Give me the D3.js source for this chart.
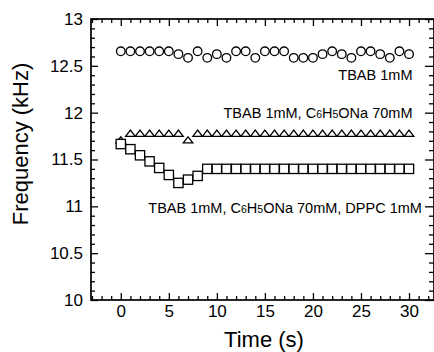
<!DOCTYPE html>
<html>
<head>
<meta charset="utf-8">
<script src="https://cdn.jsdelivr.net/npm/d3@7"></script>
<style>
  body { margin: 0; background: #fff; }
  text { font-family: "Liberation Sans", Arial, sans-serif; fill: #000; }
</style>
</head>
<body>
<div id="chart"></div>
<script>
// time axis (s)
const times = [0, 1, 2, 3, 4, 5, 6, 7, 8, 9, 10, 11, 12, 13, 14, 15, 16, 17, 18, 19, 20, 21, 22, 23, 24, 25, 26, 27, 28, 29, 30];

// TBAB 1mM (circles)
const freqTbab = [12.655, 12.655, 12.655, 12.655, 12.655, 12.655, 12.625, 12.585, 12.655, 12.585,
                  12.625, 12.585, 12.655, 12.655, 12.585, 12.655, 12.655, 12.655, 12.585, 12.585,
                  12.585, 12.625, 12.655, 12.625, 12.585, 12.655, 12.655, 12.625, 12.585, 12.655, 12.625];

// TBAB 1mM, C6H5ONa 70mM (triangles)
const freqPhenolate = [11.71, 11.78, 11.78, 11.78, 11.78, 11.78, 11.78, 11.71, 11.78, 11.78,
                       11.78, 11.78, 11.78, 11.78, 11.78, 11.78, 11.78, 11.78, 11.78, 11.78,
                       11.78, 11.78, 11.78, 11.78, 11.78, 11.78, 11.78, 11.78, 11.78, 11.78, 11.78];

// TBAB 1mM, C6H5ONa 70mM, DPPC 1mM (squares)
const freqDppc = [11.665, 11.61, 11.545, 11.48, 11.41, 11.335, 11.25, 11.285, 11.325, 11.40,
                  11.40, 11.40, 11.40, 11.40, 11.40, 11.40, 11.40, 11.40, 11.40, 11.40,
                  11.40, 11.40, 11.40, 11.40, 11.40, 11.40, 11.40, 11.40, 11.40, 11.40, 11.40];

const xTicks = [0, 5, 10, 15, 20, 25, 30];
const yTicks = [10, 10.5, 11, 11.5, 12, 12.5, 13];

const width = 434, height = 352;
const margin = {top: 19, right: 0, bottom: 52, left: 91};

const svg = d3.select("#chart").append("svg")
    .attr("width", width)
    .attr("height", height);

const x = d3.scaleLinear().domain([-3.1, 32.6]).range([margin.left, width - margin.right]);
const y = d3.scaleLinear().domain([10, 13]).range([height - margin.bottom, margin.top]);

const xMinor = d3.range(-3, 33, 1).filter(v => !xTicks.includes(v));
const yMinor = d3.range(100, 131, 1).map(v => v / 10).filter(v => !yTicks.includes(v));

const majorLen = 7, minorLen = 4;

// frame
svg.append("rect")
    .attr("x", x.range()[0]).attr("y", y.range()[1])
    .attr("width", x.range()[1] - x.range()[0])
    .attr("height", y.range()[0] - y.range()[1])
    .attr("fill", "none").attr("stroke", "#000").attr("stroke-width", 1.7);

function addAxis(gen, tx, ty, labels) {
    const g = svg.append("g").attr("transform", `translate(${tx},${ty})`).call(gen);
    g.select(".domain").remove();
    g.selectAll("line").attr("stroke", "#000").attr("stroke-width", 1.3);
    if (!labels) g.selectAll("text").remove();
    else g.selectAll("text").attr("font-size", 17).attr("fill", "#000");
    return g;
}

const bottomY = y.range()[0], topY = y.range()[1];
const leftX = x.range()[0], rightX = x.range()[1];

// bottom / top
addAxis(d3.axisBottom(x).tickValues(xTicks).tickSizeInner(-majorLen).tickSizeOuter(0).tickPadding(5), 0, bottomY, true);
addAxis(d3.axisBottom(x).tickValues(xMinor).tickSizeInner(-minorLen).tickSizeOuter(0), 0, bottomY, false);
addAxis(d3.axisTop(x).tickValues(xTicks).tickSizeInner(-majorLen).tickSizeOuter(0), 0, topY, false);
addAxis(d3.axisTop(x).tickValues(xMinor).tickSizeInner(-minorLen).tickSizeOuter(0), 0, topY, false);

// left / right
addAxis(d3.axisLeft(y).tickValues(yTicks).tickFormat(d3.format("")).tickSizeInner(-majorLen).tickSizeOuter(0).tickPadding(8), leftX, 0, true);
addAxis(d3.axisLeft(y).tickValues(yMinor).tickSizeInner(-minorLen).tickSizeOuter(0), leftX, 0, false);
addAxis(d3.axisRight(y).tickValues(yTicks).tickSizeInner(-majorLen - 2).tickSizeOuter(0), rightX, 0, false);
addAxis(d3.axisRight(y).tickValues(yMinor).tickSizeInner(-minorLen - 1).tickSizeOuter(0), rightX, 0, false);

// axis titles
svg.append("text")
    .attr("x", 264).attr("y", 347)
    .attr("text-anchor", "middle")
    .attr("font-size", 22)
    .text("Time (s)");

svg.append("text")
    .attr("transform", "translate(28,144) rotate(-90)")
    .attr("text-anchor", "middle")
    .attr("font-size", 22)
    .text("Frequency (kHz)");

// markers
const plot = svg.append("g");

plot.selectAll("circle.tbab")
    .data(times.map((t, i) => ({t, v: freqTbab[i]})))
    .join("circle")
    .attr("class", "tbab")
    .attr("cx", d => x(d.t)).attr("cy", d => y(d.v))
    .attr("r", 4.3)
    .attr("fill", "#fff").attr("stroke", "#000").attr("stroke-width", 1.3);

const triW = 9.6, triH = 6.2;
plot.selectAll("path.phen")
    .data(times.map((t, i) => ({t, v: freqPhenolate[i]})))
    .join("path")
    .attr("class", "phen")
    .attr("d", d => {
        const cx = x(d.t), cy = y(d.v);
        return `M${cx - triW / 2},${cy + triH / 2}L${cx},${cy - triH / 2}L${cx + triW / 2},${cy + triH / 2}Z`;
    })
    .attr("fill", "#fff").attr("stroke", "#000").attr("stroke-width", 1.3);

const sq = 9.3;
plot.selectAll("rect.dppc")
    .data(times.map((t, i) => ({t, v: freqDppc[i]})))
    .join("rect")
    .attr("class", "dppc")
    .attr("x", d => x(d.t) - sq / 2).attr("y", d => y(d.v) - sq / 2)
    .attr("width", sq).attr("height", sq)
    .attr("fill", "#fff").attr("stroke", "#000").attr("stroke-width", 1.3);

// series labels (right aligned)
const labels = [
    {t: 30.36, v: 12.349, parts: [["TBAB 1mM", 0]]},
    {t: 30.36, v: 11.94, parts: [["TBAB 1mM, C", 0], ["6", 1], ["H", 0], ["5", 1], ["ONa 70mM", 0]]},
    {t: 31.34, v: 10.932, parts: [["TBAB 1mM, C", 0], ["6", 1], ["H", 0], ["5", 1], ["ONa 70mM, DPPC 1mM", 0]]}
];

labels.forEach(l => {
    const txt = svg.append("text")
        .attr("x", x(l.t)).attr("y", y(l.v))
        .attr("text-anchor", "end")
        .attr("font-size", 14.5);
    l.parts.forEach(([s, sub]) => {
        txt.append("tspan")
            .attr("font-size", sub ? 10.5 : 14.5)
            .text(s);
    });
});
</script>
</body>
</html>
